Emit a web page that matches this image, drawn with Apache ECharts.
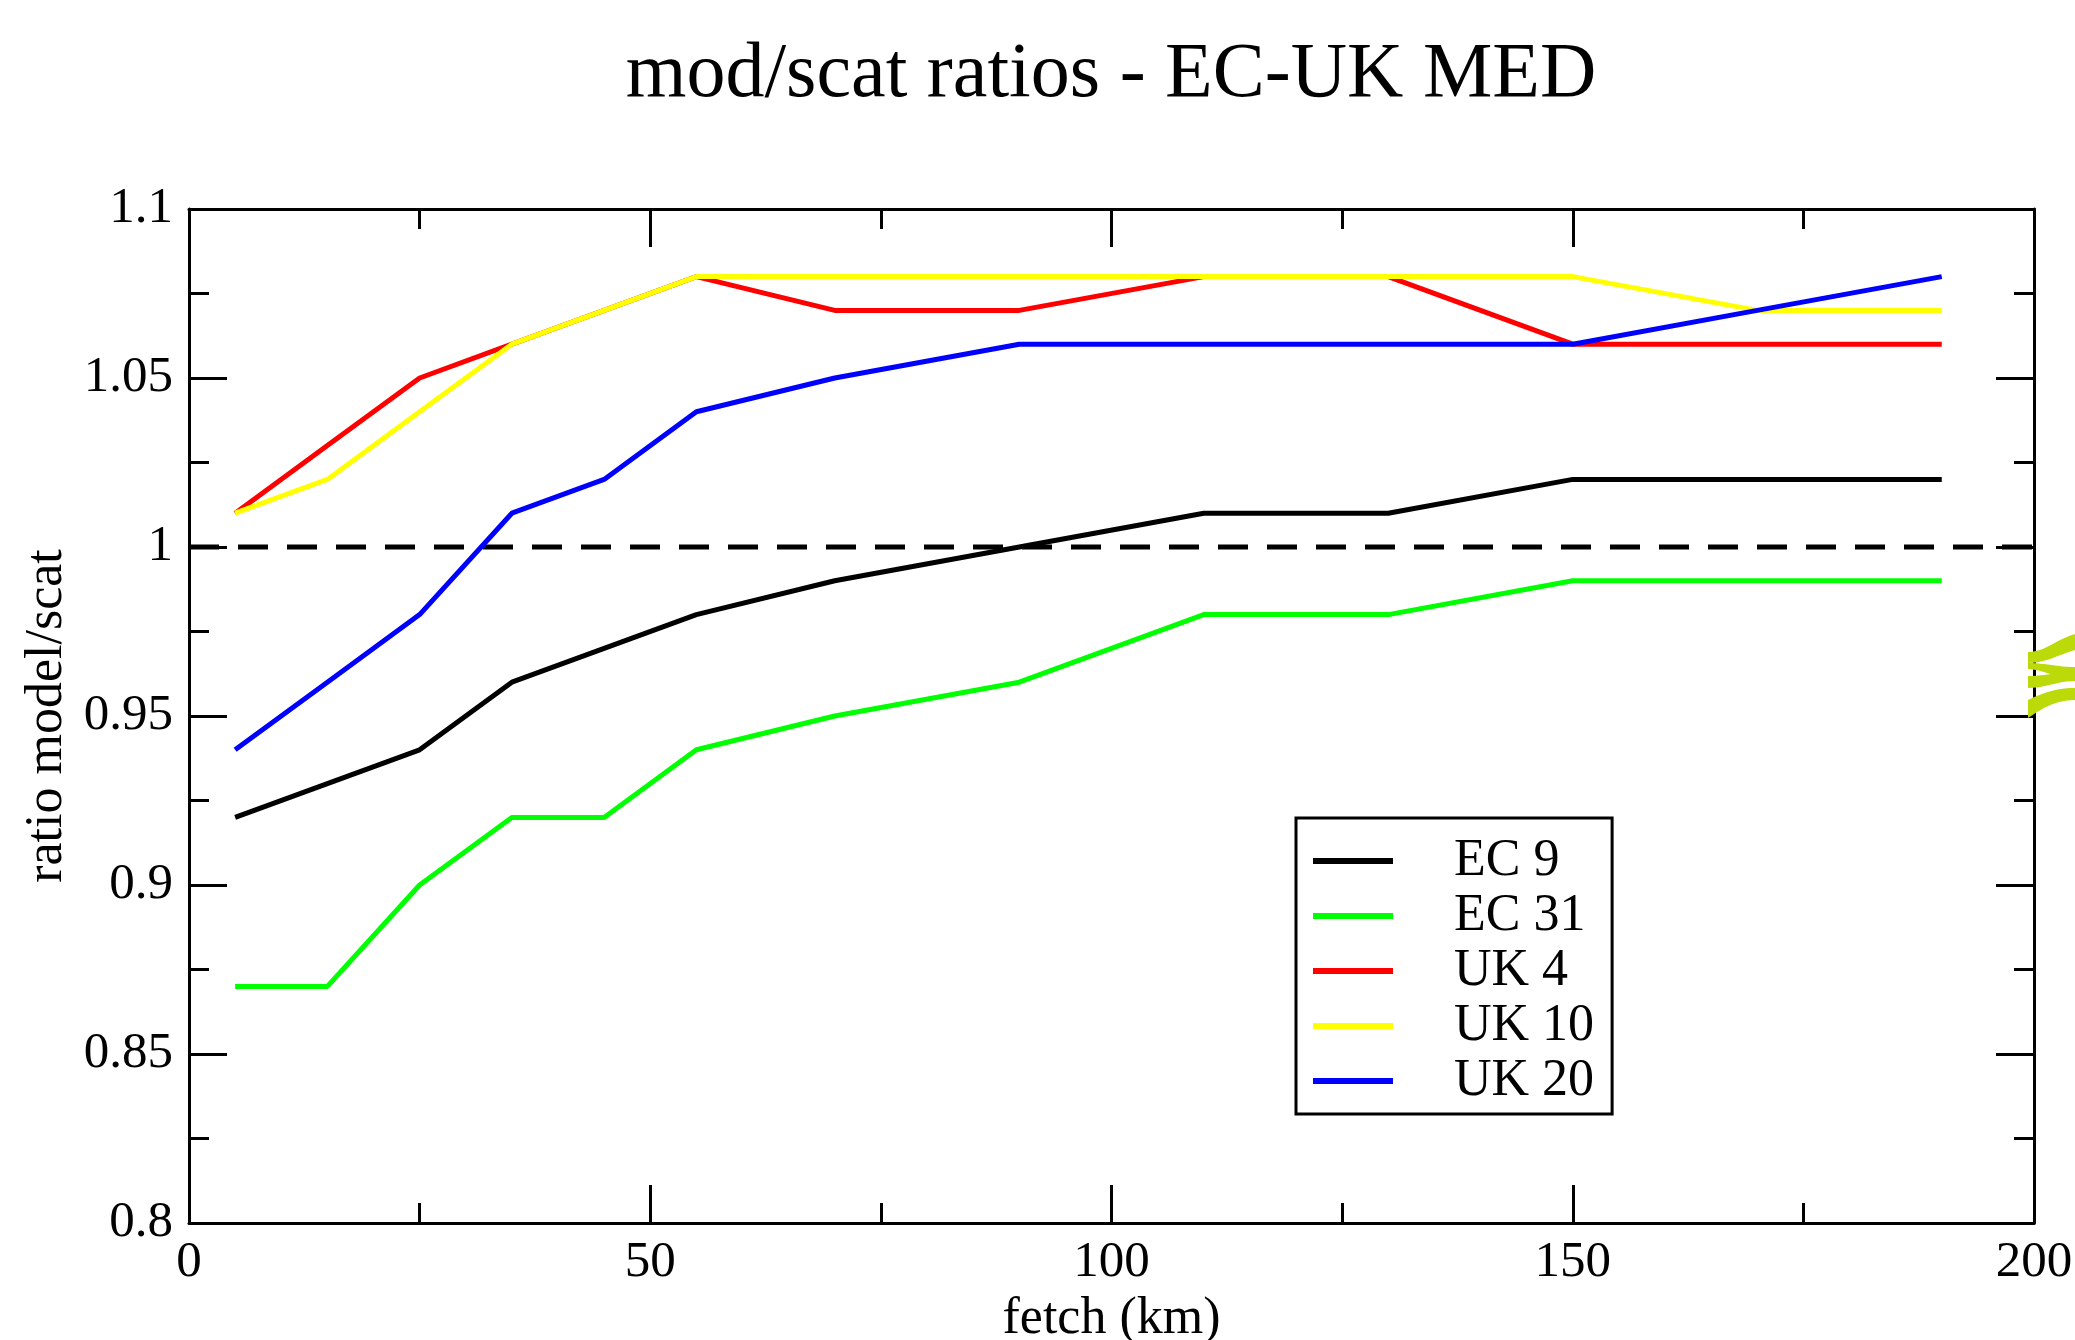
<!DOCTYPE html>
<html>
<head>
<meta charset="utf-8">
<script src="https://cdn.jsdelivr.net/npm/echarts@6/dist/echarts.min.js"></script>
<style>
html, body { margin: 0; padding: 0; background: #fff; }
#box { width: 2075px; height: 1340px; }
</style>
</head>
<body>
<div id="box"></div>
<script>
// fetch (km) sampling points
let fetchKm = [5, 15, 25, 35, 45, 55, 70, 90, 110, 130, 150, 170, 190];

// ratio model/scat per run
let ec9  = [0.92, 0.93, 0.94, 0.96, 0.97, 0.98, 0.99, 1.00, 1.01, 1.01, 1.02, 1.02, 1.02];
let ec31 = [0.87, 0.87, 0.90, 0.92, 0.92, 0.94, 0.95, 0.96, 0.98, 0.98, 0.99, 0.99, 0.99];
let uk4  = [1.01, 1.03, 1.05, 1.06, 1.07, 1.08, 1.07, 1.07, 1.08, 1.08, 1.06, 1.06, 1.06];
let uk10 = [1.01, 1.02, 1.04, 1.06, 1.07, 1.08, 1.08, 1.08, 1.08, 1.08, 1.08, 1.07, 1.07];
let uk20 = [0.94, 0.96, 0.98, 1.01, 1.02, 1.04, 1.05, 1.06, 1.06, 1.06, 1.06, 1.07, 1.08];

// reference line ratio = 1
let refX = [0, 200];
let refY = [1, 1];

let names = ['EC 9', 'EC 31', 'UK 4', 'UK 10', 'UK 20'];
let colors = ['#000000', '#00ff00', '#ff0000', '#ffff00', '#0000ff'];
let values = [ec9, ec31, uk4, uk10, uk20];

let font = 'Liberation Serif';

function pairs(xs, ys) {
    return xs.map(function (x, i) { return [x, ys[i]]; });
}

let chart = echarts.init(document.getElementById('box'));

let seriesList = [{
    name: 'ref',
    type: 'line',
    data: pairs(refX, refY),
    symbol: 'none',
    silent: true,
    lineStyle: { color: '#000', width: 5, type: [30, 19] }
}];
names.forEach(function (n, i) {
    seriesList.push({
        name: n,
        type: 'line',
        data: pairs(fetchKm, values[i]),
        symbol: 'none',
        lineStyle: { color: colors[i], width: 5 },
        itemStyle: { color: colors[i] }
    });
});

// common axis look (xmgrace style: inward ticks, mirrored on opposite side)
function axisBase(extra) {
    return Object.assign({
        type: 'value',
        axisLine: { show: true, onZero: false, lineStyle: { color: '#000', width: 3 } },
        axisTick: { show: true, inside: true, length: 38, lineStyle: { color: '#000', width: 3 } },
        minorTick: { show: true, splitNumber: 2, length: 20, lineStyle: { color: '#000', width: 3 } },
        splitLine: { show: false },
        axisLabel: { show: false }
    }, extra);
}

// stray logo fragment at the right edge of the picture (decoration only)
let logoColor = '#bcd90a';
// each band: upper edge and lower edge as cubic curves [p0, c1, c2, p1]
let logoBands = [
    [[[2028, 652], [2045, 652], [2055, 640], [2075, 634]], [[2028, 663], [2045, 663], [2058, 655], [2075, 650]]],
    [[[2028, 663], [2045, 663], [2058, 667], [2075, 667]], [[2028, 669], [2045, 670], [2058, 679], [2075, 679]]],
    [[[2028, 676], [2045, 676], [2058, 672], [2075, 671]], [[2028, 688], [2045, 688], [2058, 681], [2075, 681]]],
    [[[2028, 700], [2045, 692], [2058, 688], [2075, 688]], [[2028, 718], [2045, 706], [2058, 700], [2075, 700]]]
];

function bez(c, t) {
    let u = 1 - t;
    return [0, 1].map(function (k) {
        return u * u * u * c[0][k] + 3 * u * u * t * c[1][k] + 3 * u * t * t * c[2][k] + t * t * t * c[3][k];
    });
}

function bandPoints(band) {
    let pts = [];
    for (let i = 0; i <= 12; i++) pts.push(bez(band[0], i / 12));
    for (let i = 12; i >= 0; i--) pts.push(bez(band[1], i / 12));
    return pts;
}

let option = {
    backgroundColor: '#fff',
    animation: false,
    title: {
        text: 'mod/scat ratios - EC-UK MED',
        left: 1111,
        top: 37,
        padding: 0,
        textAlign: 'center',
        textStyle: { fontFamily: font, fontSize: 78, fontWeight: 'normal', color: '#000', lineHeight: 78 }
    },
    legend: {
        data: names,
        orient: 'vertical',
        left: 1296,
        top: 818,
        padding: [17, 18, 7, 17],
        itemGap: 3,
        itemWidth: 80,
        itemHeight: 6,
        icon: 'rect',
        borderColor: '#000',
        borderWidth: 3,
        textStyle: { fontFamily: font, fontSize: 52, lineHeight: 50, color: '#000', padding: [0, 0, 0, 56] }
    },
    grid: { left: 189, right: 41, top: 209, bottom: 117, outerBoundsMode: 'none' },
    xAxis: [
        axisBase({
            min: 0, max: 200, interval: 50,
            name: 'fetch (km)',
            nameLocation: 'middle',
            nameGap: 64,
            nameTextStyle: { fontFamily: font, fontSize: 52, color: '#000' },
            axisLabel: { show: true, margin: 14, fontFamily: font, fontSize: 51, color: '#000' }
        }),
        axisBase({ min: 0, max: 200, interval: 50, position: 'top' })
    ],
    yAxis: [
        axisBase({
            min: 0.8, max: 1.1, interval: 0.05,
            name: 'ratio model/scat',
            nameLocation: 'middle',
            nameGap: 110,
            nameTextStyle: { fontFamily: font, fontSize: 52, color: '#000' },
            axisLabel: { show: true, margin: 16, fontFamily: font, fontSize: 51, color: '#000' }
        }),
        axisBase({ min: 0.8, max: 1.1, interval: 0.05, position: 'right' })
    ],
    graphic: logoBands.map(function (b) {
        return { type: 'polygon', shape: { points: bandPoints(b) }, style: { fill: logoColor }, z: 100, silent: true };
    }),
    series: seriesList
};

chart.setOption(option);
</script>
</body>
</html>
